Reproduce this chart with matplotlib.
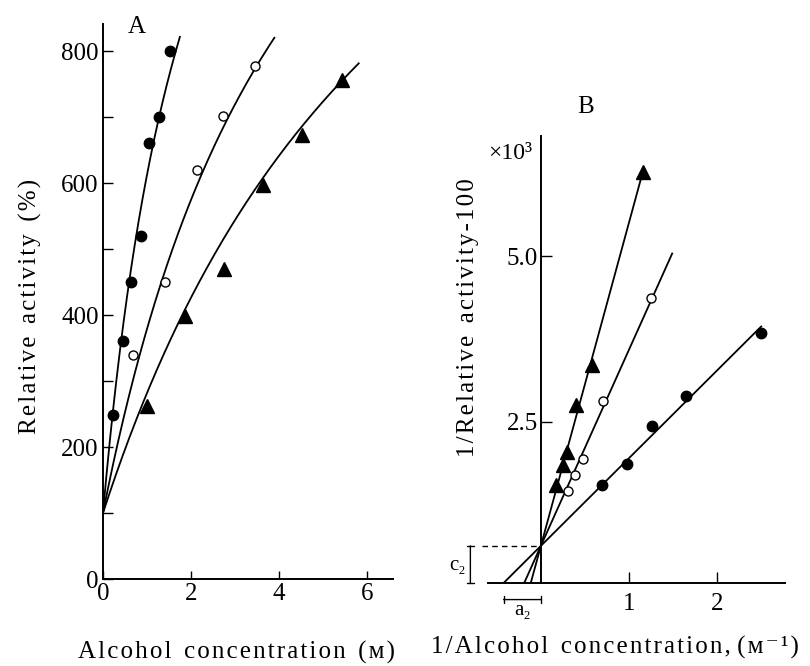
import numpy as np
import matplotlib
matplotlib.use('Agg')
import matplotlib.pyplot as plt

plt.rcParams['font.family'] = ['Liberation Serif', 'DejaVu Serif']

# ---------------- Panel A data (Relative activity vs alcohol concentration) ----------
a_x_filled = [0.23, 0.45, 0.64, 0.86, 1.04, 1.27, 1.53]
a_y_filled = [249, 360, 450, 520, 660, 700, 800]
a_x_open = [0.69, 1.41, 2.15, 2.73, 3.47]
a_y_open = [340, 450, 620, 702, 777]
a_x_tri = [1.00, 1.87, 2.75, 3.64, 4.53, 5.43]
a_y_tri = [262, 398, 469, 597, 673, 756]
a_curve_end = [1.75, 3.9, 5.82]          # extent of fitted curves (M)
a_xticks = [0, 2, 4, 6]
a_yticks = [0, 200, 400, 600, 800]

# ---------------- Panel B data (double reciprocal, x10^3) ----------------------------
b_x_filled = [0.69, 0.98, 1.26, 1.65, 2.50]
b_y_filled = [1.55, 1.87, 2.43, 2.89, 3.84]
b_x_open = [0.31, 0.39, 0.48, 0.71, 1.25]
b_y_open = [1.45, 1.70, 1.94, 2.82, 4.37]
b_x_tri = [0.17, 0.25, 0.30, 0.40, 0.58, 1.16]
b_y_tri = [1.55, 1.85, 2.05, 2.76, 3.36, 6.27]
b_line_end = [2.50, 1.49, 1.16]
b_xticks = [1, 2]
b_yticks = [2.5, 5.0]
c2 = 0.63          # common intercept on 1/(activity-100) axis (x10^3)
baseline = 100     # activity without alcohol (%)


def slope_through(x, y, c):
    x = np.asarray(x, float)
    y = np.asarray(y, float)
    return np.sum(x * (y - c)) / np.sum(x * x)


def spaced(s):
    return '\u200a'.join(s)


slopes = [slope_through(b_x_filled, b_y_filled, c2),
          slope_through(b_x_open, b_y_open, c2),
          slope_through(b_x_tri, b_y_tri, c2)]

W, H = 810, 666
fig = plt.figure(figsize=(W / 100, H / 100), dpi=100)


def frac(x0, y0, x1, y1):
    return [x0 / W, 1 - y1 / H, (x1 - x0) / W, (y1 - y0) / H]


lw = 1.3
fs = 18
lfs = 18

# ---------------- Panel A ----------------
axA = fig.add_axes(frac(103, 24, 393, 579))
axA.set_xlim(0, 6.6)
axA.set_ylim(0, 841)
for s in ['top', 'right']:
    axA.spines[s].set_visible(False)
for s in ['left', 'bottom']:
    axA.spines[s].set_linewidth(1.4)
axA.set_xticks(a_xticks)
axA.set_yticks(a_yticks)
axA.set_yticks(np.arange(100, 800, 200), minor=True)
axA.tick_params(axis='both', which='both', direction='in', labelsize=fs, width=1.0)
axA.tick_params(axis='y', which='major', length=7, pad=3)
axA.tick_params(axis='y', which='minor', length=7)
axA.tick_params(axis='x', which='major', length=6, pad=3)

series_a = [(a_x_filled, a_y_filled, dict(marker='o', ms=7.5, mfc='black', mec='black')),
            (a_x_open, a_y_open, dict(marker='o', ms=6.5, mfc='white', mec='black', mew=1.0)),
            (a_x_tri, a_y_tri, dict(marker='^', ms=10, mfc='black', mec='black'))]
for (xs, ys, st), s, xe in zip(series_a, slopes, a_curve_end):
    xc = np.linspace(0, xe, 300)
    yc = baseline + 1000 * xc / (c2 * xc + s)
    axA.plot(xc, yc, color='black', lw=lw, zorder=2)
    axA.plot(xs, ys, ls='none', zorder=3, **st)

fig.text(137 / W, 1 - 27 / H, 'A', fontsize=fs, ha='center', va='center')
fig.text(30 / W, 1 - 306 / H, spaced('Relative') + '  ' + spaced('activity') + '  ' + spaced('(%)'),
         fontsize=lfs, rotation=90, ha='center', va='center')
fig.text(236 / W, 1 - 652 / H, spaced('Alcohol') + '  ' + spaced('concentration') + '  ' + spaced('(ᴍ)'),
         fontsize=lfs, ha='center', va='center')

# ---------------- Panel B ----------------
axB = fig.add_axes(frac(488, 136, 785, 583))
ymin = 0.07
axB.set_xlim(-0.6, 2.77)
axB.set_ylim(ymin, 6.81)
for s in ['top', 'right']:
    axB.spines[s].set_visible(False)
axB.spines['left'].set_position(('data', 0))
for s in ['left', 'bottom']:
    axB.spines[s].set_linewidth(1.4)
axB.set_xticks(b_xticks)
axB.set_yticks(b_yticks)
axB.set_yticklabels(['%.1f' % v for v in b_yticks])
axB.tick_params(axis='both', direction='in', labelsize=fs, width=1.0, length=8)
axB.tick_params(axis='y', pad=2)
axB.tick_params(axis='x', pad=7)

series_b = [(b_x_filled, b_y_filled, dict(marker='o', ms=7.5, mfc='black', mec='black')),
            (b_x_open, b_y_open, dict(marker='o', ms=6.5, mfc='white', mec='black', mew=1.0)),
            (b_x_tri, b_y_tri, dict(marker='^', ms=10, mfc='black', mec='black'))]
x_int = []
for (xs, ys, st), s, xe in zip(series_b, slopes, b_line_end):
    x0 = (ymin - c2) / s
    x_int.append(x0)
    xl = np.array([x0, xe])
    axB.plot(xl, c2 + s * xl, color='black', lw=lw, zorder=2)
    axB.plot(xs, ys, ls='none', zorder=3, **st)

# c2 dashed line and brackets
axB.plot([-0.67, 0], [c2, c2], ls=(0, (4, 3)), color='black', lw=1.0, clip_on=False)
axB.annotate('', xy=(-0.80, ymin), xytext=(-0.80, c2), annotation_clip=False,
             arrowprops=dict(arrowstyle='|-|,widthA=0.25,widthB=0.25', lw=1.0, color='black',
                             shrinkA=0, shrinkB=0))
axB.text(-0.95, (ymin + c2) / 2 - 0.02, 'c₂', fontsize=15, ha='center', va='center',
         clip_on=False)
ya = -0.18
axB.annotate('', xy=(x_int[0], ya), xytext=(0, ya), annotation_clip=False,
             arrowprops=dict(arrowstyle='|-|,widthA=0.25,widthB=0.25', lw=1.0, color='black',
                             shrinkA=0, shrinkB=0))
axB.text(x_int[0] / 2, ya - 0.17, 'a₂', fontsize=15, ha='center', va='center', clip_on=False)

axB.text(-0.35, 6.55, '×10³', fontsize=17, ha='center', va='center', clip_on=False)
fig.text(586 / W, 1 - 107 / H, 'B', fontsize=fs, ha='center', va='center')
fig.text(468 / W, 1 - 318 / H, spaced('1/Relative') + '  ' + spaced('activity-100'),
         fontsize=lfs, rotation=90, ha='center', va='center')
fig.text(615 / W, 1 - 647 / H,
         spaced('1/Alcohol') + '  ' + spaced('concentration,') + ' ' + spaced('(ᴍ⁻¹)'),
         fontsize=lfs, ha='center', va='center')

fig.savefig('out.png', dpi=100)
